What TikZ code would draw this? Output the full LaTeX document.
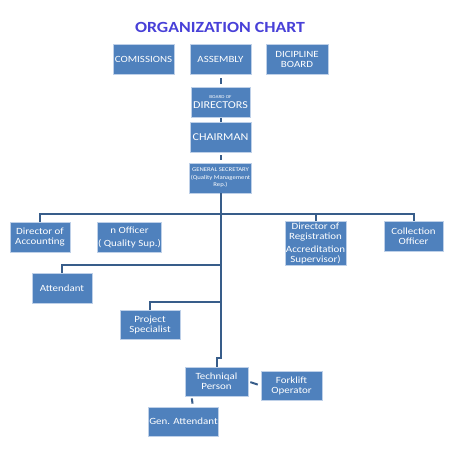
\documentclass[tikz,border=0pt]{standalone}
\usepackage{fontspec}
\setmainfont{Carlito}[FakeStretch=1.15]
\usetikzlibrary{positioning, calc}
\definecolor{boxblue}{RGB}{79,129,189}
\definecolor{boxedge}{RGB}{190,208,232}
\definecolor{linkblue}{RGB}{56,93,138}
\definecolor{titleblue}{RGB}{72,64,216}
\tikzset{
  unit/.style   = {draw=boxedge, line width=0.8pt, fill=boxblue, text=white,
                   align=center, inner sep=1pt, minimum width=61pt, minimum height=30pt,
                   font=\fontsize{9.5}{10}\selectfont},
  tall/.style   = {unit, minimum height=44pt},
  link/.style   = {draw=linkblue, line width=2pt},
  stub/.style   = {link, shorten <=3pt, shorten >=3pt}
}

\begin{document}
\begin{tikzpicture}[x=1pt, y=-1pt]
\useasboundingbox (0,0) rectangle (466,450);
\fill[white] (0,0) rectangle (466,450);

\node[font=\fontsize{15.5}{16}\selectfont\bfseries, text=titleblue] (title) at (220,27) {ORGANIZATION CHART};

% Top row
\node[unit] at (143.5,59.5) (comissions) {COMISSIONS};
\node[unit] at (220.5,59.5) (assembly)   {ASSEMBLY};
\node[unit, minimum width=62pt] at (297,59.5) (dicipline) {DICIPLINE\\BOARD};

% Management column
\node[unit, minimum width=59pt] at (220.5,102.5) (directors)
  {{\fontsize{4.5}{5}\selectfont BOARD OF}\\{\fontsize{10.5}{11}\selectfont DIRECTORS}};
\node[unit, font=\fontsize{10.5}{11}\selectfont] at (220.5,137) (chairman) {CHAIRMAN};
\node[unit, font=\fontsize{5.8}{7.5}\selectfont] at (220.5,178) (gensec)
  {GENERAL SECRETARY\\(Quality Management\\Rep.)};

% First branch
\node[unit, minimum width=60pt] at (40,237)  (accounting) {Director of\\Accounting};
\node[unit] at (129.5,237) (officer) {n Officer\\[3pt]( Quality Sup.)};
\node[tall] at (315.5,243) (registration)
  {Director of\\Registration\\[3pt]Accreditation\\Supervisor)};
\node[unit, minimum width=59pt] at (413.5,236) (collection) {Collection\\Officer};

% Lower branches
\node[unit, minimum width=60pt] at (62,288) (attendant) {Attendant};
\node[unit, minimum width=60pt, minimum height=29pt] at (150,324.5) (project) {Project\\Specialist};
\node[unit, minimum width=63pt, minimum height=29pt] at (216.5,381.5) (technical) {Techniqal\\Person};
\node[unit, minimum height=29pt] at (291.5,385.5) (forklift) {Forklift\\Operator};
\node[unit, minimum height=29pt] at (183.5,421.5) (genattendant) {Gen. Attendant};

% Short connectors in the management column
\draw[stub] (directors.north) -- (assembly.south);
\draw[link] (directors.south) -- (chairman.north);
\draw[stub] (chairman.south) -- (gensec.north);

% Trunk and branches
\coordinate (busa) at (220.5,214);
\coordinate (busb) at (220.5,265);
\coordinate (busc) at (220.5,302);
\coordinate (jog)  at (220.5,358);
\draw[link] (gensec.south) -- (jog) -| (technical.north);
\draw[link] (busa) -| (accounting.north);
\draw[link] (busa) -| (registration.north);
\draw[link] (busa) -| (collection.north);
\draw[link] (busb) -| (attendant.north);
\draw[link] (busc) -| (project.north);

% Technical person group
\draw[stub, shorten <=2pt, shorten >=3pt] (technical.east) -- (forklift.west);
\draw[link, shorten <=2pt, shorten >=3pt] ([xshift=7pt]technical.south west) -- ([xshift=45pt]genattendant.north west);
\end{tikzpicture}
\end{document}
